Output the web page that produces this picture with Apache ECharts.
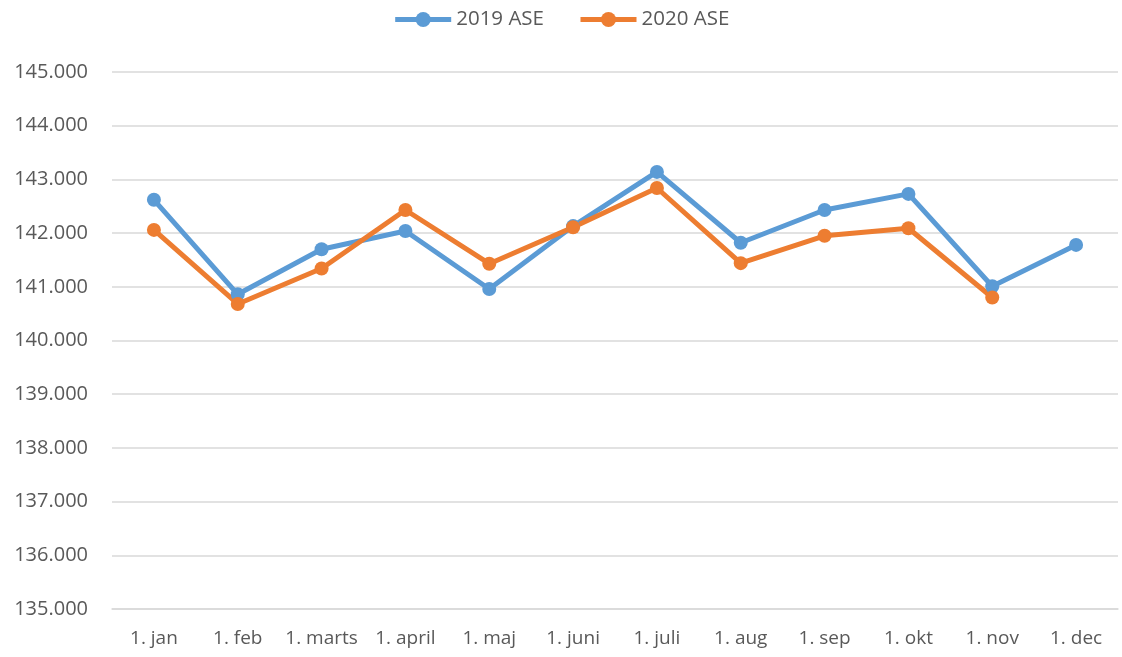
<!DOCTYPE html>
<html>
<head>
<meta charset="utf-8">
<script src="https://cdn.jsdelivr.net/npm/echarts@6/dist/echarts.min.js"></script>
<style>
html,body{margin:0;padding:0;background:#fff;}
#main{width:1122px;height:657px;}
</style>
</head>
<body>
<div id="main"></div>
<script>
// data
var months = ['1. jan', '1. feb', '1. marts', '1. april', '1. maj', '1. juni', '1. juli', '1. aug', '1. sep', '1. okt', '1. nov', '1. dec'];
var ase2019 = [142620, 140860, 141700, 142040, 140960, 142130, 143140, 141820, 142430, 142730, 141010, 141780];
var ase2020 = [142060, 140680, 141340, 142430, 141430, 142110, 142840, 141440, 141950, 142090, 140800, null];

var myChart = echarts.init(document.getElementById('main'));
var font = '"Open Sans", "Liberation Sans", sans-serif';

function serie(name, data, color) {
	return {
		name: name,
		type: 'line',
		data: data,
		symbol: 'circle',
		symbolSize: 14,
		lineStyle: {width: 5, color: color},
		itemStyle: {color: color},
		emphasis: {disabled: true},
		animation: false
	};
}

var option = {
	backgroundColor: '#fff',
	legend: {
		top: 4,
		left: 'center',
		itemWidth: 56,
		itemHeight: 19,
		itemGap: 34,
		lineStyle: {width: 5},
		textStyle: {color: '#595959', fontSize: 20.5, fontFamily: font},
		data: ['2019 ASE', '2020 ASE']
	},
	grid: {left: 112, right: 4, top: 72, bottom: 48},
	xAxis: {
		type: 'category',
		data: months,
		boundaryGap: true,
		axisLine: {show: true, lineStyle: {color: '#d9d9d9', width: 1.5}},
		axisTick: {show: false},
		axisLabel: {color: '#595959', fontSize: 19, fontFamily: font, margin: 20, interval: 0}
	},
	yAxis: {
		type: 'value',
		min: 135000,
		max: 145000,
		interval: 1000,
		axisLine: {show: false},
		axisTick: {show: false},
		splitLine: {lineStyle: {color: '#d9d9d9', width: 1.5}},
		axisLabel: {
			color: '#595959', fontSize: 20, fontFamily: font, margin: 24,
			formatter: function (v) { return (v / 1000).toFixed(3); }
		}
	},
	series: [
		serie('2019 ASE', ase2019, '#5b9bd5'),
		serie('2020 ASE', ase2020, '#ed7d31')
	]
};
myChart.setOption(option);
</script>
</body>
</html>
